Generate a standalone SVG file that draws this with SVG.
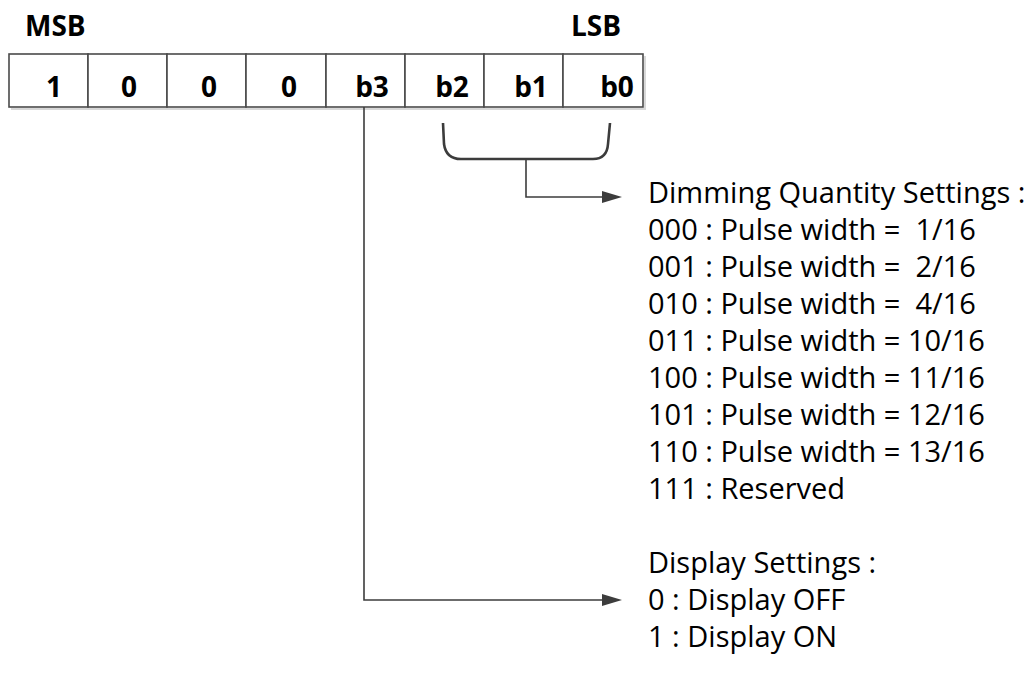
<svg xmlns="http://www.w3.org/2000/svg" width="1030" height="675" viewBox="0 0 1030 675">
<style>
.cell{fill:#fff;stroke:#4a4a4a;stroke-width:1.6}
.shadow{fill:none;stroke:#d8d8d8;stroke-width:2}
.bit{font-family:"Open Sans","Liberation Sans",sans-serif;font-weight:bold;font-size:28px;fill:#000;text-anchor:middle}
.hdr{font-family:"Open Sans","Liberation Sans",sans-serif;font-weight:bold;font-size:28px;fill:#000}
.txt{font-family:"Open Sans","Liberation Sans",sans-serif;font-size:29px;fill:#000;white-space:pre}
.conn{fill:none;stroke:#3c3c3c;stroke-width:1.6}
.brk{fill:none;stroke:#3c3c3c;stroke-width:2.6}
</style>
<defs>
<marker id="arr" markerUnits="userSpaceOnUse" markerWidth="20" markerHeight="12" refX="10" refY="6" orient="auto">
<path d="M0,0 L20,6 L0,12 z" fill="#3c3c3c"/>
</marker>
</defs>
<g id="headers">
<text class="hdr" x="25" y="36">MSB</text>
<text class="hdr" x="621" y="36" text-anchor="end">LSB</text>
</g>
<g id="register">
<path class="shadow" d="M11,109 H645 V56"/>
<g id="cell7"><rect class="cell" x="9" y="54" width="79" height="53"/><text class="bit" x="54" y="97">1</text></g>
<g id="cell6"><rect class="cell" x="88" y="54" width="79" height="53"/><text class="bit" x="129" y="97">0</text></g>
<g id="cell5"><rect class="cell" x="167" y="54" width="79" height="53"/><text class="bit" x="209" y="97">0</text></g>
<g id="cell4"><rect class="cell" x="246" y="54" width="80" height="53"/><text class="bit" x="289" y="97">0</text></g>
<g id="cell3"><rect class="cell" x="326" y="54" width="79" height="53"/><text class="bit" x="372" y="97">b3</text></g>
<g id="cell2"><rect class="cell" x="405" y="54" width="79" height="53"/><text class="bit" x="452" y="97">b2</text></g>
<g id="cell1"><rect class="cell" x="484" y="54" width="79" height="53"/><text class="bit" x="531" y="97">b1</text></g>
<g id="cell0"><rect class="cell" x="563" y="54" width="80" height="53"/><text class="bit" x="617" y="97">b0</text></g>
</g>
<g id="connectors">
<path class="brk" d="M443,123 L444,144 Q446,159 461,159 L593,159 Q607,159 608,144 L610,123"/>
<path class="conn" d="M526,159 L526,197 L612,197" marker-end="url(#arr)"/>
<path class="conn" d="M364,107 L364,600 L612,600" marker-end="url(#arr)"/>
</g>
<g id="dimming">
<text class="txt" x="648" y="203">Dimming Quantity Settings :</text>
<text class="txt" x="648" y="240">000 : Pulse width =  1/16</text>
<text class="txt" x="648" y="277">001 : Pulse width =  2/16</text>
<text class="txt" x="648" y="314">010 : Pulse width =  4/16</text>
<text class="txt" x="648" y="351">011 : Pulse width = 10/16</text>
<text class="txt" x="648" y="388">100 : Pulse width = 11/16</text>
<text class="txt" x="648" y="425">101 : Pulse width = 12/16</text>
<text class="txt" x="648" y="462">110 : Pulse width = 13/16</text>
<text class="txt" x="648" y="499">111 : Reserved</text>
</g>
<g id="display">
<text class="txt" x="648" y="573">Display Settings :</text>
<text class="txt" x="648" y="610">0 : Display OFF</text>
<text class="txt" x="648" y="647">1 : Display ON</text>
</g>
</svg>
